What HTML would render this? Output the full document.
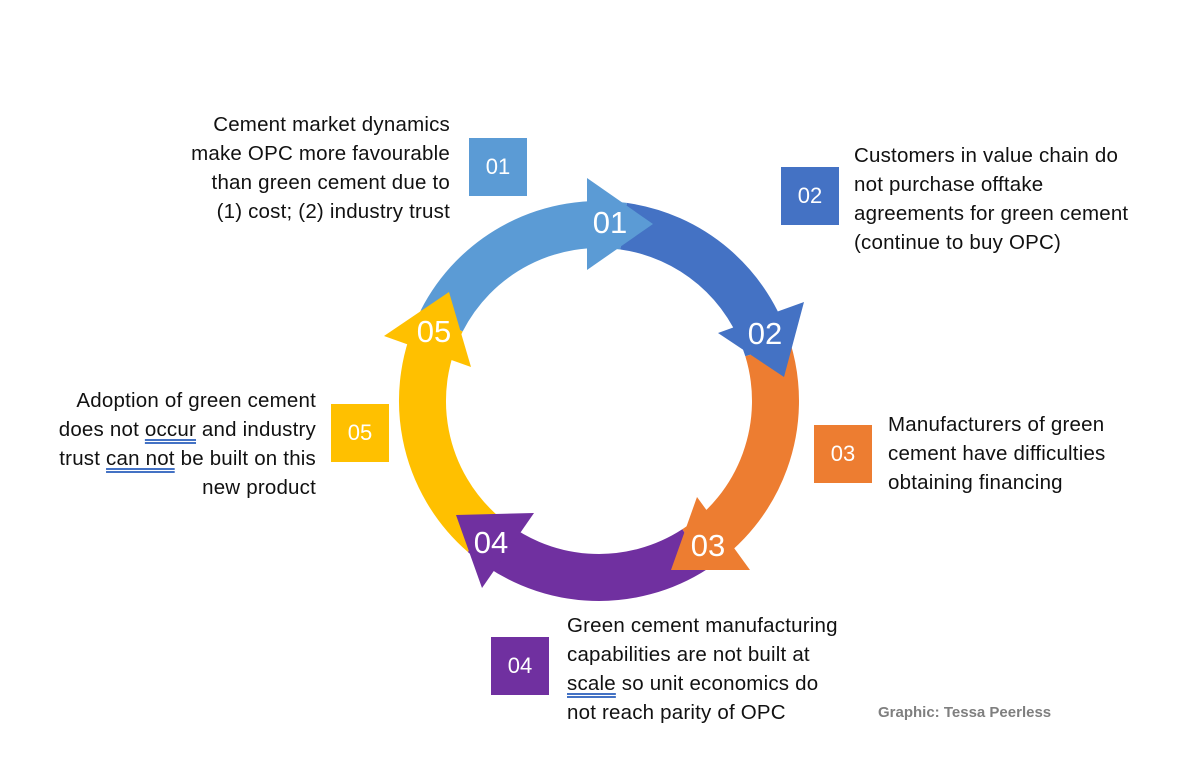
<!DOCTYPE html>
<html><head><meta charset="utf-8"><style>
body{margin:0;width:1190px;height:770px;background:#fff;position:relative;overflow:hidden;font-family:"Liberation Sans",sans-serif;}
.t{position:absolute;font-size:20.5px;line-height:29px;color:#111;white-space:nowrap;letter-spacing:0.2px}
.r{text-align:right}
.b{position:absolute;width:58px;height:58px;color:#fff;font-size:22px;line-height:58px;text-align:center}
.u{text-decoration:underline double #4472c4;text-underline-offset:3px}
svg{position:absolute;left:0;top:0}
</style></head><body>
<svg width="1190" height="770">
<g fill="none" stroke-width="47">
<path d="M441.7,320.9 A176.5 176.5 0 0 1 623.6,226.2" stroke="#5B9BD5"/>
<path d="M623.6,226.2 A176.5 176.5 0 0 1 767.8,349.4" stroke="#4472C4"/>
<path d="M767.8,349.4 A176.5 176.5 0 0 1 695.1,549.0" stroke="#ED7D31"/>
<path d="M695.1,549.0 A176.5 176.5 0 0 1 483.2,534.2" stroke="#7030A0"/>
<path d="M483.2,534.2 A176.5 176.5 0 0 1 441.7,320.9" stroke="#FFC000"/>
</g>
<polygon points="587,178 653,224 587,270" fill="#5B9BD5"/>
<polygon points="718,333 804,302 784,377" fill="#4472C4"/>
<polygon points="697,497 750,570 671,570" fill="#ED7D31"/>
<polygon points="456,515 534,513 482,588" fill="#7030A0"/>
<polygon points="384,336 449,292 471,367" fill="#FFC000"/>
<g fill="#fff" font-family="Liberation Sans, sans-serif" font-size="31" text-anchor="middle">
<text x="610" y="233">01</text>
<text x="765" y="344">02</text>
<text x="708" y="556">03</text>
<text x="491" y="553">04</text>
<text x="434" y="342">05</text>
</g>
</svg>
<div class="b" style="left:469px;top:138px;background:#5B9BD5">01</div>
<div class="b" style="left:781px;top:167px;background:#4472C4">02</div>
<div class="b" style="left:814px;top:425px;background:#ED7D31">03</div>
<div class="b" style="left:491px;top:637px;background:#7030A0">04</div>
<div class="b" style="left:331px;top:404px;background:#FFC000">05</div>
<div class="t r" style="right:740px;top:110px">Cement market dynamics<br>make OPC more favourable<br>than green cement due to<br>(1) cost; (2) industry trust</div>
<div class="t" style="left:854px;top:141px">Customers in value chain do<br>not purchase offtake<br>agreements for green cement<br>(continue to buy OPC)</div>
<div class="t" style="left:888px;top:410px">Manufacturers of green<br>cement have difficulties<br>obtaining financing</div>
<div class="t r" style="right:874px;top:386px">Adoption of green cement<br>does not <span class="u">occur</span> and industry<br>trust <span class="u">can not</span> be built on this<br>new product</div>
<div class="t" style="left:567px;top:611px">Green cement manufacturing<br>capabilities are not built at<br><span class="u">scale</span> so unit economics do<br>not reach parity of OPC</div>
<div style="position:absolute;left:878px;top:704px;font-size:15px;font-weight:bold;color:#7f7f7f">Graphic: Tessa Peerless</div>
</body></html>
